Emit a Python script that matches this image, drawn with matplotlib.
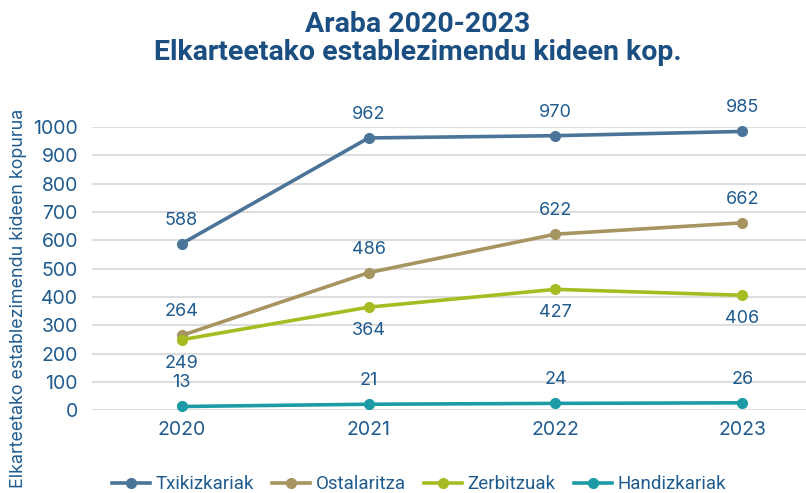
import matplotlib.pyplot as plt
import numpy as np

years = ["2020", "2021", "2022", "2023"]
txikizkariak = [588, 962, 970, 985]
ostalaritza = [264, 486, 622, 662]
zerbitzuak = [249, 364, 427, 406]
handizkariak = [13, 21, 24, 26]

series = [
    ("Txikizkariak", txikizkariak, "#4B7499", 1),
    ("Ostalaritza", ostalaritza, "#A69461", 1),
    ("Zerbitzuak", zerbitzuak, "#A7BC22", -1),
    ("Handizkariak", handizkariak, "#1C9AA5", 1),
]
text_color = "#1F5B8E"

plt.rcParams["font.family"] = ["Inter", "DejaVu Sans"]

fig = plt.figure(figsize=(8.06, 4.93), dpi=100)
ax = fig.add_axes([0.114, 0.168, 0.886, 0.574])

x = np.arange(len(years))
for name, vals, col, side in series:
    ax.plot(x, vals, color=col, lw=2.6, marker="o", ms=7, label=name,
            clip_on=False, zorder=3)
    for xi, v in zip(x, vals):
        ax.annotate(str(v), (xi, v), xytext=(0, 17 * side), textcoords="offset points",
                    ha="center", va="center", fontsize=13, color=text_color)

ax.set_xlim(-0.48, 3.34)
ax.set_ylim(0, 1000)
ax.set_yticks(range(0, 1001, 100))
ax.set_xticks(x)
ax.set_xticklabels(years)
ax.grid(axis="y", color="#DDDDDD", lw=1.5)
ax.set_axisbelow(True)
for s in ax.spines.values():
    s.set_visible(False)
ax.tick_params(length=0, labelsize=14, colors=text_color, pad=8)
ax.tick_params(axis="y", pad=10)

# y label placed by hand, it runs down to the bottom edge in the original
fig.text(19 / 806, 1 - 298 / 493, "Elkarteetako establezimendu kideen kopurua",
         rotation=90, ha="center", va="center", fontsize=12.9, color=text_color)

fig.text(0.518, 0.978, "Araba 2020-2023\nElkarteetako establezimendu kideen kop.",
         ha="center", va="top", fontsize=20.5, fontweight="bold", color="#1B4F81",
         family=["Roboto", "DejaVu Sans"], linespacing=1.05)

leg = fig.legend(loc="lower center", bbox_to_anchor=(0.52, -0.035), ncol=4, frameon=False,
                 handlelength=2.0, handletextpad=0.3, columnspacing=1.0,
                 prop={"family": ["Roboto", "DejaVu Sans"], "size": 13.5})
for t in leg.get_texts():
    t.set_color(text_color)

fig.savefig("out.png", dpi=100)
